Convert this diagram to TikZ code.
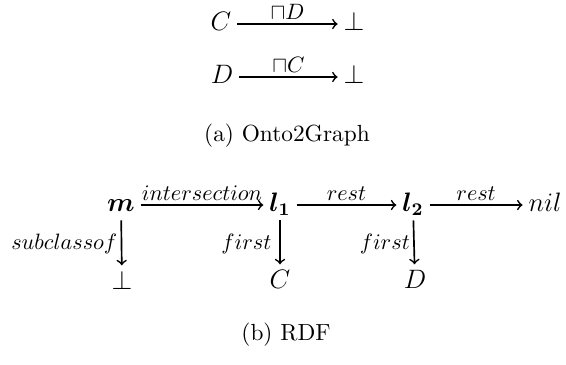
\documentclass[tikz,border=0pt]{standalone}
\usepackage{amsmath,amssymb}
\tikzset{
  obj/.style={inner sep=1.5pt, text height=8pt, text depth=2.5pt, font=\fontsize{12}{14}\selectfont},
  arr/.style={->, line width=0.75pt, shorten <=1pt, shorten >=1pt},
  lab/.style={font=\fontsize{14}{16}\selectfont, inner sep=1.5pt},
  captext/.style={font=\fontsize{10.5}{12.5}\selectfont}
}
\begin{document}
\begin{tikzpicture}[x=0.45pt,y=-0.45pt]
\useasboundingbox (0,0) rectangle (566,364);
% (a)
\node[obj] (c1) at (221,24) {$C$};
\node[obj] (b1) at (354,24) {$\bot$};
\node[obj] (d1) at (222,77) {$D$};
\node[obj] (b2) at (354,77) {$\bot$};
\draw[arr] (c1) -- node[lab,above] {$\scriptstyle\sqcap D$} (b1);
\draw[arr] (d1) -- node[lab,above] {$\scriptstyle\sqcap C$} (b2);
\node[captext] (capa) at (287,136) {(a) Onto2Graph};
% (b)
\node[obj] (m) at (121,205) {$\boldsymbol{m}$};
\node[obj] (l1) at (280,205) {$\boldsymbol{l_1}$};
\node[obj] (l2) at (413,205) {$\boldsymbol{l_2}$};
\node[obj] (nil) at (545,205) {$nil$};
\node[obj] (bot) at (122,283) {$\bot$};
\node[obj] (cc) at (280,282) {$C$};
\node[obj] (dd) at (415,282) {$D$};
\draw[arr] (m) -- node[lab,above] {$\scriptstyle intersection$} (l1);
\draw[arr] (l1) -- node[lab,above] {$\scriptstyle rest$} (l2);
\draw[arr] (l2) -- node[lab,above] {$\scriptstyle rest$} (nil);
\draw[arr, shorten <=0pt] (m) -- node[lab,left] {$\scriptstyle subclassof$} (bot);
\draw[arr, shorten <=0pt] (l1) -- node[lab,left,xshift=-2pt] {$\scriptstyle first$} (cc);
\draw[arr, shorten <=0pt] (l2) -- node[lab,left] {$\scriptstyle first$} (dd);
\node[captext] (capb) at (286,335) {(b) RDF};
\end{tikzpicture}
\end{document}
